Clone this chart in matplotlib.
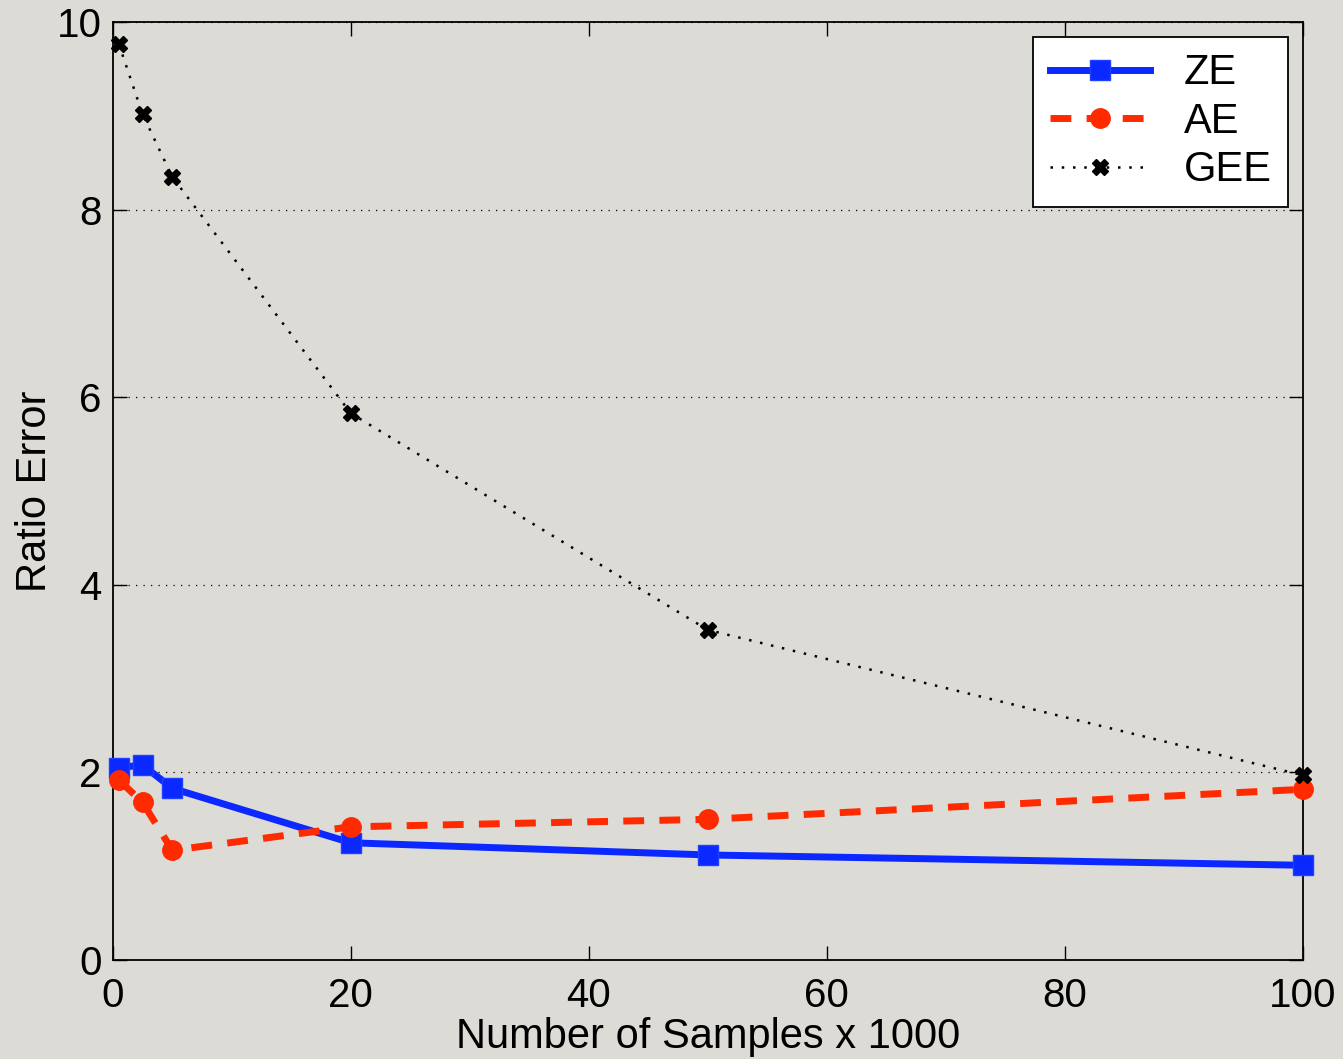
import matplotlib
matplotlib.use("Agg")
import matplotlib.pyplot as plt

# datos
samples = [0.5, 2.5, 5, 20, 50, 100]
ze = [2.05, 2.08, 1.83, 1.25, 1.12, 1.01]
ae = [1.92, 1.68, 1.17, 1.42, 1.50, 1.82]
gee = [9.77, 9.02, 8.35, 5.83, 3.52, 1.97]

BG = "#dcdbd6"

plt.rcParams["font.family"] = ["Liberation Sans", "DejaVu Sans"]

fig = plt.figure(figsize=(13.43, 10.59), dpi=100, facecolor=BG)
ax = fig.add_axes([0.084, 0.0935, 0.886, 0.8855])
ax.set_facecolor(BG)

ax.plot(samples, ze, color="#0a28ff", linewidth=5, marker="s", markersize=15,
        markerfacecolor="#0a28ff", markeredgecolor="#1e40ff", label="ZE", clip_on=False, zorder=3)
ax.plot(samples, ae, color="#ff2a00", linewidth=5, linestyle=(0, (3, 2.2)), marker="o", markersize=14,
        label="AE", clip_on=False, zorder=3)
ax.plot(samples, gee, color="black", linewidth=1.8, linestyle=(0, (1, 3.5)), marker="X", markersize=12,
        label="GEE", clip_on=False, zorder=3)

ax.set_xlim(0, 100)
ax.set_ylim(0, 10)
ax.set_xticks([0, 20, 40, 60, 80, 100])
ax.set_yticks([0, 2, 4, 6, 8, 10])
ax.tick_params(direction="in", length=10, width=1, labelsize=29, top=True, right=True)
ax.tick_params(axis="x", pad=12)
ax.tick_params(axis="y", pad=8)
ax.yaxis.grid(True, linestyle=(0, (1, 5)), color="black", linewidth=0.9)
for s in ax.spines.values():
    s.set_linewidth(1.3)

ax.set_xlabel("Number of Samples x 1000", fontsize=30, labelpad=2)
ax.set_ylabel("Ratio Error", fontsize=30, labelpad=1)

leg = ax.legend(loc="upper right", fontsize=30, fancybox=False, framealpha=1,
                edgecolor="black", borderaxespad=0.35, handlelength=2.4, labelspacing=0.2)
leg.get_frame().set_linewidth(1.3)

fig.savefig("out.png", dpi=100, facecolor=BG)
